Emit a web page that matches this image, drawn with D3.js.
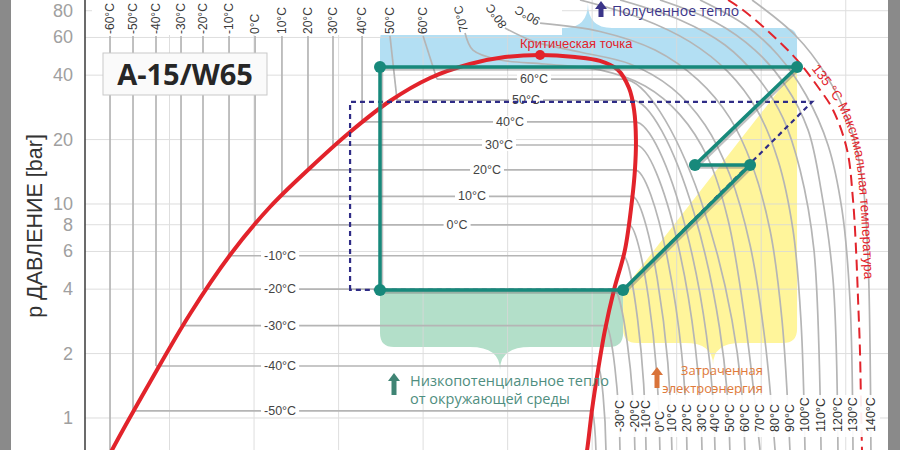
<!DOCTYPE html>
<html><head><meta charset="utf-8">
<script src="https://cdn.jsdelivr.net/npm/d3@7"></script>
<style>body{margin:0;background:#fff}svg{display:block}</style>
</head><body>
<svg id="c" width="900" height="450"></svg>
<script>
// ---------------- DATA ----------------
const yTicks = [1, 2, 4, 6, 8, 10, 20, 40, 60, 80];
const hGrid = [150, 200, 250, 300, 350, 400, 450, 500, 550];

// sub-critical isotherms (°C): saturation pressure [bar], enthalpies [kJ/kg]
const subTemps   = [-60, -50, -40, -30, -20, -10, 0, 10, 20, 30, 40, 50, 60];
const subPSat    = [0.64, 1.08, 1.75, 2.70, 4.00, 5.73, 7.98, 10.85, 14.44, 18.86, 24.2, 30.6, 38.3];
const subHLiqTop = [114.8, 128.4, 142.0, 156.8, 169.8, 185.2, 200.6, 216.5, 231.9, 246.7, 263.9, 280.4, 300.0];
const subHLiqSat = [114.8, 128.4, 142.0, 156.8, 169.8, 185.2, 200.6, 216.5, 231.9, 246.7, 263.9, 284.6, 308.2];
const subHVap    = [null, 399.9, 403.5, 408.2, 412.9, 418.3, 421.8, 423.6, 425.3, 425.9, 425.3, 423.6, 418.3];
const subHEnd    = [null, 402.3, 408.2, 416.5, 425.3, 431.9, 440.1, 447.2, 456.1, 465.0, 472.7, 481.5, 490.4];
const subLabelH  = [null, 215.4, 215.4, 215.4, 215.4, 215.4, 320.1, 328.9, 337.8, 344.9, 351.4, 360.9, 365.6];
const pLiqTop = 61.0, pEnd = 0.64;

// super-critical isotherms
const superTemps = [70, 80, 90, 100, 110, 120, 130, 140];
const superH = [
  [324.8, 329.5, 345.5, 372.1, 404.6, 431.3, 452.0, 468.5, 480.4, 490.4, 499.3],
  [348.4, 366.2, 392.8, 422.4, 447.2, 466.8, 481.5, 493.4, 502.2, 508.2],
  [369.2, 404.6, 437.2, 462.6, 481.5, 494.6, 505.2, 512.3, 517.0],
  [392.8, 428.3, 457.9, 480.4, 497.5, 509.9, 518.8, 523.5, 525.9],
  [416.5, 452.0, 478.6, 498.1, 512.9, 523.0, 531.2, 535.4],
  [440.1, 472.7, 496.3, 514.1, 527.7, 535.4, 542.5, 545.4],
  [463.8, 490.4, 509.9, 526.5, 539.5, 547.8, 552.5, 554.3],
  [494.6, 520.0, 538.3, 552.5, 560.2, 563.2, 564.4, 564.9]
];
const superP = [
  [63.0, 52.4, 47.1, 45.1, 42.3, 35.6, 26.1, 16.40, 8.42, 2.87, 0.709],
  [66.4, 57.2, 51.3, 45.1, 34.8, 23.4, 13.66, 6.43, 2.315, 0.709],
  [70.0, 64.0, 52.4, 38.0, 25.2, 15.21, 7.56, 2.87, 0.709],
  [89.8, 73.98, 57.2, 41.4, 27.5, 16.05, 7.56, 2.87, 0.709],
  [89.8, 72.4, 55.3, 38.8, 25.2, 14.42, 6.10, 0.709],
  [89.8, 70.9, 52.4, 36.0, 22.2, 11.63, 4.415, 0.709],
  [89.8, 68.6, 49.7, 32.3, 18.87, 9.375, 3.56, 0.709],
  [89.8, 61.6, 40.1, 23.4, 12.27, 5.47, 2.08, 0.709]
];
const topLabelRot = [-103, -125, -150];   // 70, 80, 90 °C labels at top

// 135 °C maximum temperature isotherm
const maxTH = [480.4, 489.2, 505.2, 521.2, 533.6, 542.5, 550.8, 554.3, 556.1, 557.3, 558.4, 559.0, 559.6];
const maxTP = [89.8, 80.6, 62.96, 47.1, 35.2, 27.5, 17.88, 10.44, 6.10, 3.56, 2.08, 1.214, 0.709];

// saturation dome (liquid branch -> critical point -> vapour branch)
const domeH = [112.4, 116.0, 138.5, 162.1, 185.8, 209.4, 233.1, 256.8, 280.4, 304.1, 327.7, 348.4, 369.2,
               389.9, 404.6, 415.3, 421.8, 424.8, 425.9, 425.3, 423.6, 419.4, 412.9, 407.6, 403.5, 399.9, 397.0, 395.8];
const domeP = [0.623, 0.709, 1.473, 3.062, 5.776, 9.68, 14.73, 21.70, 30.29, 38.8, 45.1, 48.6, 49.7,
               48.6, 46.6, 42.3, 34.8, 27.5, 19.9, 14.42, 10.44, 6.10, 3.965, 2.578, 1.676, 1.090, 0.709, 0.636];
const critH = 369.2, critP = 49.7;

// heat-pump cycle A-15/W65 (order: C, D, E, F, B, A)
const cycleH = [274.5, 418.3, 493.4, 460.8, 521.2, 274.5];
const cycleP = [3.965, 3.965, 15.21, 15.21, 43.68, 43.68];
// reference (dashed) cycle
const refH = [256.8, 256.8, 530.1, 418.3];
const refP = [3.965, 30.0, 30.0, 3.965];

// highlighted regions: [hLeft, hRight], [pEdge], bump [h, p]
const heatOutH = [274.5, 521.2], heatOutP = [66.4, 43.68], heatOutBump = [397.5, 86.9];
const heatInH  = [274.5, 418.3], heatInP  = [3.965, 2.147], heatInBump  = [345.5, 1.676];
const workH    = [418.3, 521.2], workP    = [3.965, 43.68, 2.241], workBump = [471.5, 1.769];

const bottomLabelTemps = [-30, -20, -10, 0, 10, 20, 30, 40, 50, 60, 70, 80, 90, 100, 110, 120, 130, 140];

// ---------------- CHART ----------------
const svg = d3.select('#c');
const FONT = '"Liberation Sans", Arial, sans-serif';
const FONT2 = '"Open Sans", "Liberation Sans", sans-serif';
const x = d3.scaleLinear().domain([100, 575]).range([85, 888]);
const y = d3.scaleLog().domain([0.7087, 89.78]).range([450, 0]);

const RED = '#e2232b', TEAL = '#17897b', NAVY = '#2f2c86', ISO = '#b5b5b5';

svg.append('rect').attr('width', 900).attr('height', 450).attr('fill', '#fff');
const defs = svg.append('defs');
defs.append('clipPath').attr('id', 'plot').append('rect').attr('x', 85).attr('y', 0).attr('width', 803).attr('height', 450);
const P = svg.append('g').attr('clip-path', 'url(#plot)');

// ---- fills ----
{
  const x0 = x(heatOutH[0]), x1 = x(heatOutH[1]), T = y(heatOutP[0]), B = y(heatOutP[1]);
  const cx = x(heatOutBump[0]), tip = y(heatOutBump[1]), r = 12, w = 24;
  P.append('path').attr('fill', '#b3dff3').attr('d',
    `M${x0},${B} L${x0},${T + r} Q${x0},${T} ${x0 + r},${T} L${cx - w},${T} Q${cx},${T} ${cx},${tip} Q${cx},${T} ${cx + w},${T} L${x1 - r},${T} Q${x1},${T} ${x1},${T + r} L${x1},${B} Z`);
}
{
  const x0 = x(heatInH[0]), x1 = x(heatInH[1]), T = y(heatInP[0]), B = y(heatInP[1]);
  const cx = x(heatInBump[0]), tip = y(heatInBump[1]), r = 14, w = 30;
  P.append('path').attr('fill', '#b3dfc9').attr('d',
    `M${x0},${T} L${x0},${B - r} Q${x0},${B} ${x0 + r},${B} L${cx - w},${B} Q${cx},${B} ${cx},${tip} Q${cx},${B} ${cx + w},${B} L${x1 - r},${B} Q${x1},${B} ${x1},${B - r} L${x1},${T} Z`);
}
{
  const dx = x(workH[0]), dy = y(workP[0]), bx = x(workH[1]), by = y(workP[1]), bot = y(workP[2]);
  const cx = x(workBump[0]), tip = y(workBump[1]), r = 14, w = 28;
  P.append('path').attr('fill', '#fff59b').attr('d',
    `M${dx},${dy} L${bx},${by} L${bx},${bot - r} Q${bx},${bot} ${bx - r},${bot} L${cx + w},${bot} Q${cx},${bot} ${cx},${tip} Q${cx},${bot} ${cx - w},${bot} L${dx + r},${bot} Q${dx},${bot} ${dx},${bot - r} Z`);
}

// ---- grid ----
const grid = P.append('g').attr('stroke', '#d9d9d9').attr('stroke-width', 1).attr('opacity', 0.85);
yTicks.forEach(t => grid.append('line').attr('x1', 85).attr('x2', 888).attr('y1', y(t)).attr('y2', y(t)));
hGrid.forEach(h => grid.append('line').attr('x1', x(h)).attr('x2', x(h)).attr('y1', 0).attr('y2', 450));

// white box behind top labels
P.append('rect').attr('x', 92).attr('y', 0).attr('width', 470).attr('height', 35).attr('fill', '#fff');

// ---- isotherms ----
const lin = d3.line().x(d => x(d[0])).y(d => y(d[1]));
const smooth = d3.line().x(d => x(d[0])).y(d => y(d[1])).curve(d3.curveCatmullRom.alpha(0.5));
const iso = P.append('g').attr('fill', 'none').attr('stroke', ISO).attr('stroke-width', 1.7);
subTemps.forEach((T, i) => {
  iso.append('path').attr('d', lin([[subHLiqTop[i], pLiqTop], [subHLiqSat[i], subPSat[i]]]));
  if (subHVap[i] == null) return;
  iso.append('path').attr('d', lin([[subHLiqSat[i], subPSat[i]], [subHVap[i], subPSat[i]]]));
  const sx = x(subHVap[i]), sy = y(subPSat[i]), ex = x(subHEnd[i]), ey = y(pEnd);
  iso.append('path').attr('d', `M${sx},${sy} C${sx + 0.35 * (ex - sx)},${sy} ${ex},${sy + 0.5 * (ey - sy)} ${ex},${ey}`);
});
superTemps.forEach((T, i) => {
  iso.append('path').attr('d', smooth(superH[i].map((h, k) => [h, superP[i][k]])));
});

// top labels
const topL = svg.append('g').attr('font-family', FONT).attr('font-size', 12).attr('fill', '#3a3a3a');
subTemps.forEach((T, i) => {
  const px = x(subHLiqTop[i]);
  topL.append('text').attr('transform', `translate(${px},34) rotate(-90)`).attr('dominant-baseline', 'central').text(`${T}°C`);
});
superTemps.slice(0, 3).forEach((T, i) => {
  const px = x(superH[i][0]), py = y(superP[i][0]);
  topL.append('text').attr('transform', `translate(${px - 1},${py - 1}) rotate(${topLabelRot[i]})`).attr('dominant-baseline', 'central').text(`${T}°C`);
});

// horizontal isotherm labels
const hl = P.append('g').attr('font-family', FONT).attr('font-size', 12.5).attr('fill', '#444');
subTemps.forEach((T, i) => {
  if (subLabelH[i] == null) return;
  const g = hl.append('g');
  const t = g.append('text').attr('x', x(subLabelH[i])).attr('y', y(subPSat[i])).attr('text-anchor', 'middle')
    .attr('dominant-baseline', 'central').text(`${T}°C`);
  const b = t.node().getBBox();
  g.insert('rect', 'text').attr('x', b.x - 3).attr('y', b.y + 1).attr('width', b.width + 6).attr('height', b.height - 2).attr('fill', '#fff');
});

// ---- saturation dome ----
P.append('path').attr('fill', 'none').attr('stroke', RED).attr('stroke-width', 4).attr('stroke-linejoin', 'round')
  .attr('d', smooth(domeH.map((h, k) => [h, domeP[k]])));

// ---- reference dashed cycle ----
P.append('path').attr('fill', 'none').attr('stroke', NAVY).attr('stroke-width', 2.2).attr('stroke-dasharray', '5,4')
  .attr('d', lin(refH.map((h, k) => [h, refP[k]])) + 'Z');

// ---- max temperature line ----
const maxPts = maxTH.map((h, k) => [h, maxTP[k]]);
P.append('path').attr('fill', 'none').attr('stroke', RED).attr('stroke-width', 2).attr('stroke-dasharray', '11,6')
  .attr('d', smooth(maxPts));
const offLine = d3.line().x(d => x(d[0]) + 7).y(d => y(d[1])).curve(d3.curveCatmullRom.alpha(0.5));
const tpath = svg.append('path').attr('id', 'maxTPath').attr('fill', 'none').attr('stroke', 'none').attr('d', offLine(maxPts));
let off = 0;
{
  const n = tpath.node(), L = n.getTotalLength();
  for (let l = 0; l < L; l += 1) { if (n.getPointAtLength(l).y >= 68) { off = l; break; } }
}
svg.append('text').attr('font-family', FONT).attr('font-size', 13.5).attr('fill', RED)
  .append('textPath').attr('href', '#maxTPath').attr('startOffset', off).text('135 °C Максимальная температура');

// ---- cycle ----
const cyc = cycleH.map((h, k) => [h, cycleP[k]]);
const cycD = lin(cyc) + 'Z';
P.append('path').attr('fill', 'none').attr('stroke', '#777').attr('stroke-opacity', 0.45).attr('stroke-width', 3.5)
  .attr('transform', 'translate(1.5,2)').attr('d', cycD);
P.append('path').attr('fill', 'none').attr('stroke', TEAL).attr('stroke-width', 3.5).attr('stroke-linejoin', 'round').attr('d', cycD);
P.selectAll('circle.cp').data(cyc).join('circle').attr('class', 'cp').attr('cx', d => x(d[0])).attr('cy', d => y(d[1])).attr('r', 6).attr('fill', TEAL);

// critical point
P.append('circle').attr('cx', x(critH)).attr('cy', y(critP)).attr('r', 5).attr('fill', RED);
svg.append('text').attr('x', 520).attr('y', 48).attr('font-family', FONT).attr('font-size', 13).attr('fill', RED).text('Критическая точка');

// ---- annotations ----
function upArrow(cx, top, bottom, color) {
  svg.append('path').attr('fill', color).attr('d',
    `M${cx},${top} L${cx + 6},${top + 8} L${cx + 2.5},${top + 8} L${cx + 2.5},${bottom} L${cx - 2.5},${bottom} L${cx - 2.5},${top + 8} L${cx - 6},${top + 8} Z`);
}
upArrow(601, 1, 17, '#3b3589');
svg.append('text').attr('x', 612).attr('y', 16).attr('font-family', FONT2).attr('font-size', 14).attr('fill', '#3b3589').text('Полученное тепло');

upArrow(394, 373, 395, '#3f8474');
const lowT = svg.append('g').attr('font-family', FONT2).attr('font-size', 14.5).attr('fill', '#4f8e80');
lowT.append('text').attr('x', 410).attr('y', 386).text('Низкопотенциальное тепло');
lowT.append('text').attr('x', 410).attr('y', 404).text('от окружающей среды');

upArrow(657, 367, 388, '#d9733a');
const wT = svg.append('g').attr('font-family', FONT2).attr('font-size', 13).attr('fill', '#e07a3a').attr('text-anchor', 'end');
wT.append('text').attr('x', 763).attr('y', 375).text('Затраченная');
wT.append('text').attr('x', 763).attr('y', 393).text('электроэнергия');

// ---- bottom temperature labels ----
svg.append('rect').attr('x', 610).attr('y', 395).attr('width', 270).attr('height', 42).attr('fill', '#fff').attr('opacity', 0.92);
const bottomH = {};
subTemps.forEach((T, i) => { if (subHEnd[i] != null) bottomH[T] = subHEnd[i]; });
superTemps.forEach((T, i) => { bottomH[T] = superH[i][superH[i].length - 1]; });
const bl = svg.append('g').attr('font-family', FONT).attr('font-size', 12.5).attr('fill', '#333');
bottomLabelTemps.forEach(T => {
  bl.append('text').attr('transform', `translate(${x(bottomH[T])},432) rotate(-90)`).attr('dominant-baseline', 'central').text(`${T}°C`);
});

// ---- axis, frame ----
svg.append('line').attr('x1', 85).attr('x2', 85).attr('y1', 0).attr('y2', 450).attr('stroke', '#3a3a3a').attr('stroke-width', 1.5);
const yt = svg.append('g').attr('font-family', FONT).attr('font-size', 18).attr('fill', '#a0a0a0').attr('text-anchor', 'end');
yTicks.forEach(t => yt.append('text').attr('x', 73).attr('y', Math.max(y(t), 10)).attr('dominant-baseline', 'central').text(t));
svg.append('text').attr('transform', 'translate(42,226) rotate(-90)').attr('text-anchor', 'middle')
  .attr('font-family', FONT).attr('font-size', 21.5).attr('fill', '#333').text('p ДАВЛЕНИЕ [bar]');
svg.append('rect').attr('x', 0).attr('y', 0).attr('width', 11).attr('height', 450).attr('fill', '#8a8a8a');
svg.append('rect').attr('x', 888).attr('y', 0).attr('width', 12).attr('height', 450).attr('fill', '#8a8a8a');

// title box
svg.append('rect').attr('x', 103).attr('y', 53).attr('width', 164).attr('height', 42).attr('fill', '#fafafa').attr('stroke', '#c9c9c9');
svg.append('text').attr('x', 185).attr('y', 85).attr('text-anchor', 'middle').attr('font-family', FONT2)
  .attr('font-weight', 700).attr('font-size', 29).attr('fill', '#262626').text('A-15/W65');
</script>
</body></html>
